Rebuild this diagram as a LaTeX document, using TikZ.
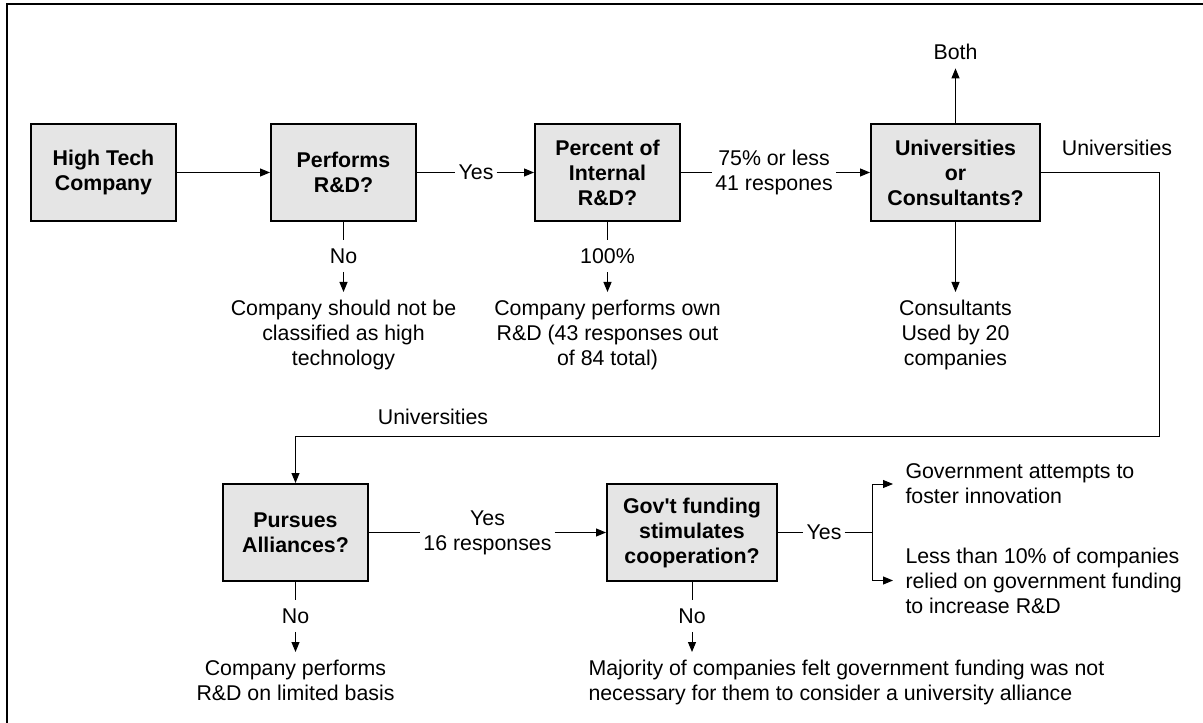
\documentclass[tikz,border=0pt]{standalone}
\usepackage{fontspec}
\setmainfont{Liberation Sans}
\usetikzlibrary{arrows.meta}

\newcommand{\txtsize}{\fontsize{16}{18.75}\selectfont}
\tikzset{
  box/.style={draw, line width=1.5pt, fill=black!10, minimum width=108.75pt,
    minimum height=72.75pt, align=center, font=\txtsize\bfseries},
  lbl/.style={inner xsep=2pt, inner ysep=6pt, align=center},
  res/.style={inner sep=6pt, align=center},
  arr/.style={-{Triangle[length=7.5pt,width=6pt]}}
}

\begin{document}
\begin{tikzpicture}[x=0.75pt,y=-0.75pt,line width=0.75pt,font=\txtsize]
\useasboundingbox (0,0) rectangle (1203,723);
\draw[line width=1.5pt] (7,723) -- (7,4.5) -- (1203,4.5);

% top row
\node[box] (htc) at (103.5,172.5) {High Tech\\Company};
\node[box] (rd) at (343.5,172.5) {Performs\\R\&D?};
\node[box] (pct) at (607.5,172.5) {Percent of\\Internal\\R\&D?};
\node[box, minimum width=126.75pt] (uc) at (955.5,172.5) {Universities\\or\\Consultants?};

\node[lbl] (yes1) at (476,172.5) {Yes};
\node[lbl] (less) at (774,172.5) {75\% or less\\41 respones};
\node[lbl] (rdno) at (343.5,256) {No};
\node[lbl] (full) at (607.5,256) {100\%};
\node[lbl] (both) at (955.5,52) {Both};
\node (uni1) at (1117,148) {Universities};

\node[res, anchor=north] (nothigh) at (343.5,292) {Company should not be\\classified as high\\technology};
\node[res, anchor=north] (own) at (607.5,292) {Company performs own\\R\&D (43 responses out\\of 84 total)};
\node[res, anchor=north] (cons) at (955.5,292) {Consultants\\Used by 20\\companies};

\draw[arr] (htc) -- (rd);
\draw (rd) -- (yes1);
\draw[arr] (yes1) -- (pct);
\draw (pct) -- (less);
\draw[arr] (less) -- (uc);
\draw (rd) -- (rdno);
\draw[arr] (rdno) -- (nothigh);
\draw (pct) -- (full);
\draw[arr] (full) -- (own);
\draw[arr] (uc) -- (both);
\draw[arr] (uc) -- (cons);

% bottom row
\node[box] (pa) at (295.5,532.5) {Pursues\\Alliances?};
\node[box, minimum width=127.5pt] (gf) at (692,532.5) {Gov\textquotesingle t funding\\stimulates\\cooperation?};

\node (uni2) at (433,417) {Universities};
\coordinate (loop) at (1159,437);
\draw[arr] (uc.east) -| (loop) -| (pa.north);

\node[lbl] (yes2) at (487.5,532.5) {Yes\\16 responses};
\node[lbl] (yes3) at (824,532.5) {Yes};
\coordinate (split) at (872,532.5);
\node[lbl] (pano) at (295.5,616) {No};
\node[lbl] (gfno) at (692,616) {No};

\node[res, anchor=north] (limited) at (295.5,652) {Company performs\\R\&D on limited basis};
\node[res, anchor=north west, align=left] (maj) at (580,652) {Majority of companies felt government funding was not\\necessary for them to consider a university alliance};
\node[res, inner xsep=9pt, anchor=west, align=left] (gov1) at (893,484) {Government attempts to\\foster innovation};
\node[res, inner xsep=9pt, anchor=west, align=left] (gov2) at (893,580.5) {Less than 10\% of companies\\relied on government funding\\to increase R\&D};

\draw (pa) -- (yes2);
\draw[arr] (yes2) -- (gf);
\draw (gf) -- (yes3);
\draw (yes3) -- (split);
\draw[arr] (split) |- (gov1.west);
\draw[arr] (split) |- (gov2.west);
\draw (pa) -- (pano);
\draw[arr] (pano) -- (limited);
\draw (gf) -- (gfno);
\draw[arr] (gfno) -- (gfno |- maj.north);
\end{tikzpicture}
\end{document}
